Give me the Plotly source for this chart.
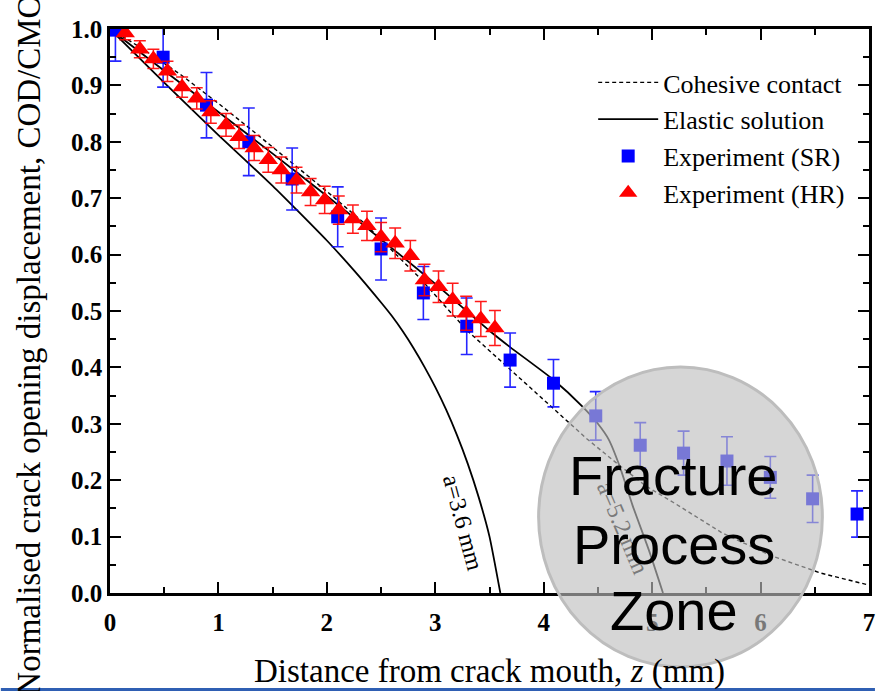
import plotly.graph_objects as go

# ---------------- data ----------------
coh_x = [0.0, 0.3, 0.66, 1.0, 1.3, 1.68, 2.0, 2.35, 2.65, 2.85, 3.29, 3.69, 3.95, 4.24, 4.4, 4.7, 4.94, 5.2, 5.65, 6.1, 6.56, 7.0]
coh_y = [1.0, 0.965, 0.918, 0.868, 0.822, 0.762, 0.712, 0.655, 0.598, 0.56, 0.466, 0.397, 0.352, 0.301, 0.273, 0.226, 0.19, 0.16, 0.106, 0.066, 0.035, 0.014]

el36_x = [0.0, 0.5, 1.0, 1.5, 1.75, 2.0, 2.25, 2.5, 2.6, 2.7, 2.8, 2.9, 3.0, 3.1, 3.2, 3.3, 3.4, 3.5, 3.6]
el36_y = [1.0, 0.905, 0.812, 0.722, 0.674, 0.625, 0.572, 0.515, 0.491, 0.464, 0.434, 0.401, 0.365, 0.325, 0.28, 0.229, 0.17, 0.1, 0.0]

el52_x = [0.0, 0.5, 1.0, 1.5, 2.0, 2.5, 3.0, 3.5, 3.69, 4.09, 4.36, 4.5, 4.6, 4.7, 4.82, 4.97, 5.1]
el52_y = [1.0, 0.926, 0.853, 0.779, 0.704, 0.627, 0.548, 0.465, 0.436, 0.378, 0.33, 0.3, 0.272, 0.225, 0.155, 0.076, 0.0]

sr_x = [0.05, 0.49, 0.89, 1.28, 1.68, 2.1, 2.5, 2.89, 3.29, 3.69, 4.09, 4.48, 4.89, 5.29, 5.69, 6.09, 6.48, 6.89]
sr_y = [0.998, 0.95, 0.865, 0.80, 0.734, 0.667, 0.61, 0.532, 0.473, 0.413, 0.372, 0.314, 0.262, 0.248, 0.234, 0.205, 0.167, 0.14]
sr_err = [0.055, 0.053, 0.058, 0.06, 0.055, 0.053, 0.055, 0.047, 0.05, 0.048, 0.042, 0.043, 0.04, 0.039, 0.043, 0.037, 0.042, 0.041]

hr_x = [0.14, 0.275, 0.40, 0.53, 0.665, 0.80, 0.93, 1.07, 1.19, 1.33, 1.46, 1.58, 1.72, 1.85, 1.98, 2.11, 2.24, 2.37, 2.5, 2.63, 2.77, 2.9, 3.03, 3.16, 3.285, 3.42, 3.55]
hr_y = [0.993, 0.964, 0.947, 0.925, 0.897, 0.877, 0.853, 0.83, 0.809, 0.789, 0.768, 0.75, 0.732, 0.711, 0.697, 0.679, 0.663, 0.651, 0.631, 0.62, 0.598, 0.555, 0.543, 0.52, 0.496, 0.486, 0.47]
hr_err = [0.012, 0.015, 0.017, 0.018, 0.018, 0.019, 0.02, 0.02, 0.021, 0.022, 0.022, 0.023, 0.023, 0.024, 0.024, 0.025, 0.025, 0.026, 0.026, 0.027, 0.027, 0.028, 0.028, 0.029, 0.03, 0.031, 0.031]

x_ticks = [0, 1, 2, 3, 4, 5, 6, 7]
y_ticks = [0.0, 0.1, 0.2, 0.3, 0.4, 0.5, 0.6, 0.7, 0.8, 0.9, 1.0]

# ---------------- layout geometry (pixels) ----------------
W, H = 881, 691
L, R, T, B = 110, 875, 29, 593
PW, PH = R - L, B - T

def px(x):
    return (x - L) / PW

def py(y):
    return (B - y) / PH

SERIF = "Liberation Serif, Times New Roman, serif"
SANS = "Liberation Sans, Arial, sans-serif"

fig = go.Figure()

fig.add_trace(go.Scatter(x=coh_x, y=coh_y, mode="lines", name="Cohesive contact",
                         line=dict(color="black", width=1.4, dash="4px,3px")))
fig.add_trace(go.Scatter(x=el36_x, y=el36_y, mode="lines", name="Elastic solution",
                         line=dict(color="black", width=1.8, shape="spline", smoothing=0.5),
                         legendgroup="el"))
fig.add_trace(go.Scatter(x=el52_x, y=el52_y, mode="lines", name="Elastic solution",
                         line=dict(color="black", width=1.8, shape="spline", smoothing=0.6),
                         legendgroup="el", showlegend=False))
fig.add_trace(go.Scatter(x=sr_x, y=sr_y, mode="markers", name="Experiment (SR)",
                         marker=dict(symbol="square", size=13, color="#0000ff"),
                         error_y=dict(type="data", array=sr_err, color="rgba(0,0,255,0.85)",
                                      thickness=1.6, width=6)))
fig.add_trace(go.Scatter(x=hr_x, y=hr_y, mode="markers", name="Experiment (HR)",
                         marker=dict(symbol="triangle-up", size=17, color="#ff0000"),
                         error_y=dict(type="data", array=hr_err, color="rgba(255,0,0,0.9)",
                                      thickness=1.5, width=6)))

axis_common = dict(
    showline=True, linewidth=2.5, linecolor="black", mirror="allticks",
    ticks="inside", ticklen=11, tickwidth=2, tickcolor="black",
    showgrid=False, zeroline=False,
    tickfont=dict(family=SERIF, size=25, color="black", weight="bold"),
)

fig.update_layout(
    width=W, height=H,
    margin=dict(l=L, r=W - R, t=T, b=H - B, pad=0),
    paper_bgcolor="white", plot_bgcolor="white",
    showlegend=True,
    legend=dict(x=px(597), y=py(59), xanchor="left", yanchor="top",
                font=dict(family=SERIF, size=26, color="black"),
                bgcolor="rgba(0,0,0,0)", itemwidth=60, tracegroupgap=0),
    xaxis=dict(range=[0, 7], tickvals=x_ticks, ticktext=[str(v) for v in x_ticks],
               ticklabelstandoff=5,
               minor=dict(ticks="inside", ticklen=6, tickwidth=2, dtick=0.5, tickcolor="black"),
               **axis_common),
    yaxis=dict(range=[0, 1], tickvals=y_ticks, ticktext=["%.1f" % v for v in y_ticks],
               minor=dict(ticks="inside", ticklen=6, tickwidth=2, dtick=0.05, tickcolor="black"),
               **axis_common),
)

# circle (fracture process zone)
cx, cy, rx, ry = 685, 517, 143, 150
fig.add_shape(type="circle", xref="paper", yref="paper",
              x0=px(cx - rx), x1=px(cx + rx), y0=py(cy + ry), y1=py(cy - ry),
              fillcolor="rgba(190,190,190,0.63)", line=dict(color="#bdbdbd", width=3),
              layer="above")

# bottom blue rule
fig.add_shape(type="line", xref="paper", yref="paper",
              x0=px(0), x1=px(W), y0=py(689.5), y1=py(689.5),
              line=dict(color="#2f5fb3", width=3), layer="above")

annos = [
    dict(text="Normalised crack opening displacement, COD/CMOD", x=px(28), y=py(333),
         textangle=-90, font=dict(family=SERIF, size=33, color="black")),
    dict(text="Distance from crack mouth, <i>z</i> (mm)", x=px(492), y=py(671),
         font=dict(family=SERIF, size=33, color="black")),
    dict(text="a=3.6 mm", x=px(466), y=py(523), textangle=75,
         font=dict(family=SERIF, size=24, color="black")),
    dict(text="a=5.2 mm", x=px(627), y=py(528), textangle=67,
         font=dict(family=SERIF, size=24, color="#7a7a7a")),
    dict(text="Fracture", x=px(678), y=py(475), font=dict(family=SANS, size=56, color="black")),
    dict(text="Process", x=px(678), y=py(544), font=dict(family=SANS, size=56, color="black")),
    dict(text="Zone", x=px(678), y=py(610), font=dict(family=SANS, size=56, color="black")),
]
for a in annos:
    fig.add_annotation(xref="paper", yref="paper", xanchor="center", yanchor="middle",
                       showarrow=False, **a)

fig.write_html("out.html")
